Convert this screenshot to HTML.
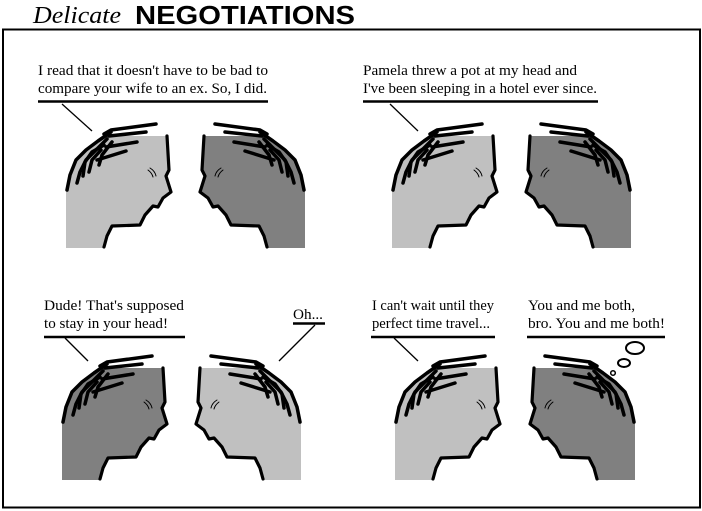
<!DOCTYPE html>
<html><head><style>body{margin:0;background:#fff;}svg{display:block;}</style></head>
<body>
<svg width="702" height="511" viewBox="0 0 702 511" xmlns="http://www.w3.org/2000/svg">
<defs>
<g id="hair" fill="none" stroke="#000" stroke-width="3.5" stroke-linecap="round" stroke-linejoin="round">
  <polyline points="167,136 169,170 166,176 171,192 163,198 158,207 153,206 145,215 140,225 112,226 107,236 104,247" stroke-width="3.2"/>
  <polyline points="104,134 111,130 156,124"/>
  <polyline points="109,136 146,132"/>
  <polyline points="106,147 137,142"/>
  <polyline points="97,160 126,151"/>
  <polyline points="111,132 98,141 86,150 76,160 70,175 67,190"/>
  <polyline points="107,139 96,150 86,160 80,172 77,183"/>
  <polyline points="104,145 92,152 85,162 83,176"/>
  <polyline points="101,150 92,160 89,172"/>
  <polyline points="112,142 102,155 99,165"/>
  <path d="M148,170 q4,3 5,7 M150,168 q5,3 6,8" stroke-width="1" />
</g>
<path id="skull" d="M66,248 L66,187 L72,166 L84,150 L104,136 L147,136 L167,136 L169,170 L166,176 L171,192 L163,198 L158,207 L153,206 L145,215 L140,225 L112,226 L107,236 L104,248 Z"/>
</defs>
<rect x="3" y="29.5" width="697" height="478" fill="none" stroke="#000" stroke-width="2"/>
<text x="33" y="23" font-family="Liberation Serif, serif" font-style="italic" font-size="24" textLength="88" lengthAdjust="spacingAndGlyphs">Delicate</text>
<text x="135" y="24" font-family="Liberation Sans, sans-serif" font-weight="bold" font-size="26" textLength="220" lengthAdjust="spacingAndGlyphs">NEGOTIATIONS</text>

<g font-family="Liberation Serif, serif" font-size="15" fill="#000">
<text x="38" y="75" textLength="230" lengthAdjust="spacingAndGlyphs">I read that it doesn't have to be bad to</text>
<text x="38" y="93" textLength="229" lengthAdjust="spacingAndGlyphs">compare your wife to an ex. So, I did.</text>
<text x="363" y="75" textLength="214" lengthAdjust="spacingAndGlyphs">Pamela threw a pot at my head and</text>
<text x="363" y="93" textLength="234" lengthAdjust="spacingAndGlyphs">I've been sleeping in a hotel ever since.</text>
<text x="44" y="310" textLength="140" lengthAdjust="spacingAndGlyphs">Dude! That's supposed</text>
<text x="44" y="328" textLength="124" lengthAdjust="spacingAndGlyphs">to stay in your head!</text>
<text x="293" y="319" textLength="30" lengthAdjust="spacingAndGlyphs">Oh...</text>
<text x="372" y="310" textLength="122" lengthAdjust="spacingAndGlyphs">I can't wait until they</text>
<text x="372" y="328" textLength="118" lengthAdjust="spacingAndGlyphs">perfect time travel...</text>
<text x="528" y="310" textLength="107" lengthAdjust="spacingAndGlyphs">You and me both,</text>
<text x="528" y="328" textLength="137" lengthAdjust="spacingAndGlyphs">bro. You and me both!</text>
</g>
<g stroke="#000" fill="none">
<line x1="38" y1="101.5" x2="268" y2="101.5" stroke-width="2.5"/>
<line x1="62" y1="104" x2="92" y2="131" stroke-width="1.3"/>
<line x1="363" y1="101.5" x2="598" y2="101.5" stroke-width="2.5"/>
<line x1="390" y1="104" x2="418" y2="131" stroke-width="1.3"/>
<line x1="44" y1="337" x2="185" y2="337" stroke-width="2.5"/>
<line x1="65" y1="338" x2="88" y2="361" stroke-width="1.3"/>
<line x1="293" y1="323.5" x2="325" y2="323.5" stroke-width="2.5"/>
<line x1="315" y1="325" x2="279" y2="361" stroke-width="1.3"/>
<line x1="371" y1="337" x2="495" y2="337" stroke-width="2.5"/>
<line x1="394" y1="338" x2="418" y2="361" stroke-width="1.3"/>
<line x1="527" y1="337" x2="665" y2="337" stroke-width="2.5"/>
<ellipse cx="635" cy="348" rx="9" ry="6" stroke-width="2"/>
<ellipse cx="624" cy="363" rx="6" ry="4" stroke-width="2"/>
<circle cx="613" cy="373" r="2.3" stroke-width="1.5"/>
</g>

<g><use href="#skull" fill="#c0c0c0"/><use href="#hair"/></g>
<g transform="translate(371,0) scale(-1,1)"><use href="#skull" fill="#808080"/><use href="#hair"/></g>
<g transform="translate(326,0)"><use href="#skull" fill="#c0c0c0"/><use href="#hair"/></g>
<g transform="translate(697,0) scale(-1,1)"><use href="#skull" fill="#808080"/><use href="#hair"/></g>
<g transform="translate(-4,232)"><use href="#skull" fill="#808080"/><use href="#hair"/></g>
<g transform="translate(367,232) scale(-1,1)"><use href="#skull" fill="#c0c0c0"/><use href="#hair"/></g>
<g transform="translate(329,232)"><use href="#skull" fill="#c0c0c0"/><use href="#hair"/></g>
<g transform="translate(701,232) scale(-1,1)"><use href="#skull" fill="#808080"/><use href="#hair"/></g>
</svg>
</body></html>
